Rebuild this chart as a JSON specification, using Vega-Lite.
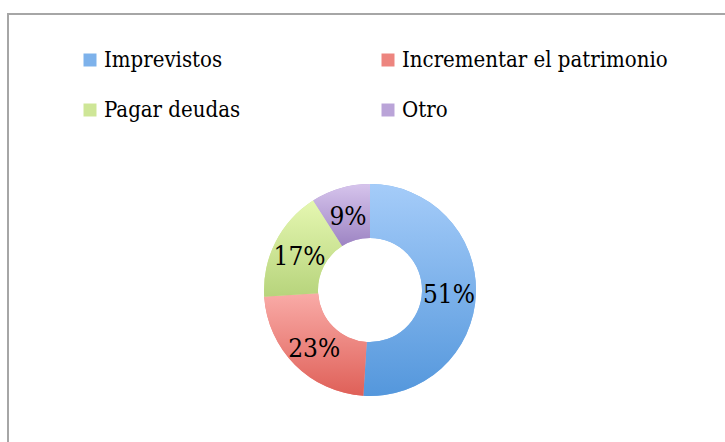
{
  "$schema": "https://vega.github.io/schema/vega-lite/v6.json",
  "width": 724,
  "height": 552,
  "autosize": "none",
  "padding": {"left": 8, "top": 14, "right": 0, "bottom": 0},
  "background": "white",
  "datasets": {
    "respuestas": [
      {"categoria": "Imprevistos", "valor": 0.51, "orden": 1},
      {"categoria": "Incrementar el patrimonio", "valor": 0.23, "orden": 2},
      {"categoria": "Pagar deudas", "valor": 0.17, "orden": 3},
      {"categoria": "Otro", "valor": 0.09, "orden": 4}
    ]
  },
  "layer": [
    {
      "data": {"values": [{}]},
      "mark": {"type": "rect", "fill": null, "filled": false, "stroke": "#a6a6a6", "strokeWidth": 2},
      "encoding": {}
    },
    {
      "data": {"name": "respuestas"},
      "transform": [
        {"stack": "valor", "groupby": [], "sort": [{"field": "orden", "order": "ascending"}], "as": ["v0", "v1"]}
      ],
      "layer": [
        {
          "mark": {"type": "arc", "innerRadius": 52, "outerRadius": 106},
          "encoding": {
            "theta": {"field": "v0", "type": "quantitative", "scale": {"domain": [0, 1]}},
            "theta2": {"field": "v1"},
            "color": {
              "field": "categoria",
              "type": "nominal",
              "sort": ["Imprevistos", "Pagar deudas", "Incrementar el patrimonio", "Otro"],
              "scale": {
                "domain": ["Imprevistos", "Pagar deudas", "Incrementar el patrimonio", "Otro"],
                "range": ["#7db2eb", "#cee697", "#ed857f", "#baa4d8"]
              },
              "legend": {
                "title": null,
                "orient": "none",
                "legendX": 71,
                "legendY": 35,
                "columns": 2,
                "columnPadding": 136,
                "rowPadding": 28,
                "symbolType": "square",
                "symbolSize": 169,
                "symbolStrokeWidth": 0,
                "labelFont": "DejaVu Serif Condensed",
                "labelFontSize": 22,
                "labelColor": "#000000",
                "labelOffset": 3,
                "labelLimit": 400
              }
            }
          }
        },
        {
          "transform": [{"filter": "datum.categoria === 'Imprevistos'"}],
          "mark": {"type": "arc", "innerRadius": 52, "outerRadius": 106,
            "fill": {"gradient": "linear", "x1": 0, "y1": 0, "x2": 0, "y2": 1, "stops": [{"offset": 0, "color": "#a5ccf9"}, {"offset": 1, "color": "#5497dc"}]}},
          "encoding": {
            "theta": {"field": "v0", "type": "quantitative"},
            "theta2": {"field": "v1"}
          }
        },
        {
          "transform": [{"filter": "datum.categoria === 'Incrementar el patrimonio'"}],
          "mark": {"type": "arc", "innerRadius": 52, "outerRadius": 106,
            "fill": {"gradient": "linear", "x1": 0, "y1": 0, "x2": 0, "y2": 1, "stops": [{"offset": 0, "color": "#f9aba7"}, {"offset": 1, "color": "#df6058"}]}},
          "encoding": {
            "theta": {"field": "v0", "type": "quantitative"},
            "theta2": {"field": "v1"}
          }
        },
        {
          "transform": [{"filter": "datum.categoria === 'Pagar deudas'"}],
          "mark": {"type": "arc", "innerRadius": 52, "outerRadius": 106,
            "fill": {"gradient": "linear", "x1": 0, "y1": 0, "x2": 0, "y2": 1, "stops": [{"offset": 0, "color": "#e5f7b1"}, {"offset": 1, "color": "#b7d47c"}]}},
          "encoding": {
            "theta": {"field": "v0", "type": "quantitative"},
            "theta2": {"field": "v1"}
          }
        },
        {
          "transform": [{"filter": "datum.categoria === 'Otro'"}],
          "mark": {"type": "arc", "innerRadius": 52, "outerRadius": 106,
            "fill": {"gradient": "linear", "x1": 0, "y1": 0, "x2": 0, "y2": 1, "stops": [{"offset": 0, "color": "#d6c4ec"}, {"offset": 1, "color": "#9d84c3"}]}},
          "encoding": {
            "theta": {"field": "v0", "type": "quantitative"},
            "theta2": {"field": "v1"}
          }
        }
      ]
    },
    {
      "data": {"name": "respuestas"},
      "mark": {"type": "text", "radius": 79, "dy": 3, "font": "DejaVu Serif Condensed", "fontSize": 26, "color": "#000000"},
      "encoding": {
        "theta": {"field": "valor", "type": "quantitative", "stack": true},
        "order": {"field": "orden", "type": "quantitative"},
        "text": {"field": "valor", "type": "quantitative", "format": ".0%"}
      }
    }
  ]
}
